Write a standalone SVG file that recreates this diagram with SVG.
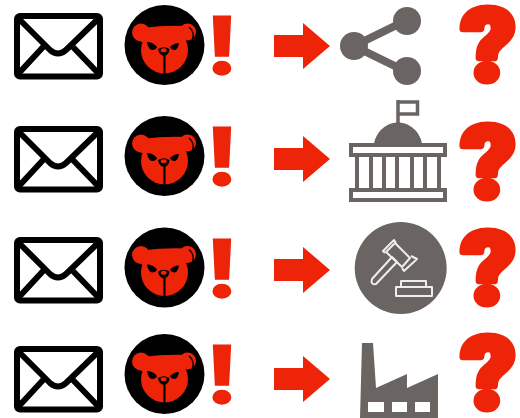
<svg xmlns="http://www.w3.org/2000/svg" width="520" height="418" viewBox="0 0 520 418">
<style>
.red{fill:#ee2408}
.gr{fill:#6a6462}
.ln{fill:none;stroke:#6a6462;stroke-width:4}
.q{font-family:"Roboto","Liberation Sans",sans-serif;font-weight:900;font-size:100px;fill:#ee2408;stroke:#ee2408;stroke-width:7;stroke-linejoin:round;text-anchor:middle}
.e{font-family:"Roboto","Liberation Sans",sans-serif;font-weight:900;font-size:82px;fill:#ee2408;stroke:#ee2408;stroke-width:1.500;text-anchor:middle}
</style>
<defs>
<g id="env" fill="none" stroke="#000" stroke-width="6" stroke-linejoin="round" stroke-linecap="round">
<rect x="17" y="16" width="83" height="60.500" rx="3" fill="#fff"/>
<path d="M19 19L50 50Q58 57 66 50L98 19M44 46L19 73M72 46L98 73"/>
</g>
<g id="bear">
<circle cx="164.500" cy="45" r="40" fill="#000"/>
<g class="red">
<circle cx="164.500" cy="50" r="23.500"/>
<circle cx="141" cy="32.500" r="9"/>
<circle cx="187.500" cy="32" r="8.500"/>
<path d="M142 28Q164 25 188 26L189 40L141 42Z"/>
</g>
<path d="M189 27Q195 32 192.500 39" fill="none" stroke="#000" stroke-width="1.500"/>
<path d="M147 42Q153 42 157 47Q156 50 152 50Q148 49 147 42ZM179 43Q174 43 170 47Q171 50 175 50Q178 49 179 43Z"/>
<path d="M158 49Q164 45.500 169.500 49Q169 55 164 56Q159 55 158 49Z"/>
<ellipse cx="163.700" cy="50.300" rx="3" ry="2" class="red"/>
<path d="M163.500 55H165.500V74H163.500Z"/>
</g>
<path id="arrow" class="red" d="M274 35H303V23L330 46L303 69V57H274Z"/>
<g id="q"><text class="q" transform="scale(1.06 1)" x="0" y="0">?</text></g>
<g id="ex"><text class="e" transform="scale(1.15 1)" x="0" y="0">!</text></g>
</defs>
<g id="row1">
<use href="#env"/><use href="#bear"/>
<use href="#ex" x="221.500" y="74"/>
<use href="#arrow"/>
<g id="share" class="gr"><path class="ln" style="stroke-width:8" d="M405 21L354 46L405 71"/><circle cx="354" cy="46" r="14"/><circle cx="407" cy="21" r="14"/><circle cx="407" cy="71" r="14"/></g>
<use href="#q" x="488.500" y="80"/>
</g>
<g id="row2">
<use href="#env" y="113"/><use href="#bear" y="111"/>
<use href="#ex" x="221.500" y="184.500"/>
<use href="#arrow" y="113"/>
<use href="#q" x="488.500" y="197"/>
</g>
<g id="capitol">
<rect class="ln" x="351" y="145" width="94" height="10"/>
<rect class="ln" x="351" y="190" width="94" height="10"/>
<path class="ln" d="M357 156V190M371 156V190M384 156V190M397 156V190M412 156V190M425 156V190M439 156V190"/>
<path class="ln" style="stroke-width:3.500" d="M398 102H417.500V114H398M398 100V124"/>
<path class="gr" d="M374 144C376 131 387 122.500 398 122.500C409 122.500 420 131 422 144Z"/>
</g>
<g id="row3">
<use href="#env" y="224"/><use href="#bear" y="222.500"/>
<use href="#ex" x="221.500" y="297"/>
<use href="#arrow" y="224"/>
<use href="#q" x="488.500" y="303"/>
</g>
<g id="gavel">
<circle class="gr" cx="400.700" cy="268" r="46"/>
<g fill="none" stroke="#eee" stroke-width="2" stroke-linejoin="round">
<path d="M372 279L392 257L397 262L376 284Q370 285 372 279Z"/>
<path d="M386 252L395 243L410 258L402 267Z"/>
<path d="M385 253L383 251L394 240L396 243M402 268L404 271L417 259L411 256"/>
<rect x="396" y="287" width="36" height="9"/><path d="M401 287V281H426V287"/>
</g>
</g>
<g id="row4">
<use href="#env" y="333"/><use href="#bear" y="329"/>
<use href="#ex" x="221.500" y="403"/>
<use href="#arrow" y="333"/>
<use href="#q" x="488.500" y="408"/>
</g>
<g id="factory">
<path class="gr" d="M360 418L362 343H373L376 388L407 374V388L438 374V418Z"/>
<path fill="#fff" d="M368 402H384V412H368ZM392 402H407V412H392ZM415 402H430V412H415Z"/>
</g>
</svg>
